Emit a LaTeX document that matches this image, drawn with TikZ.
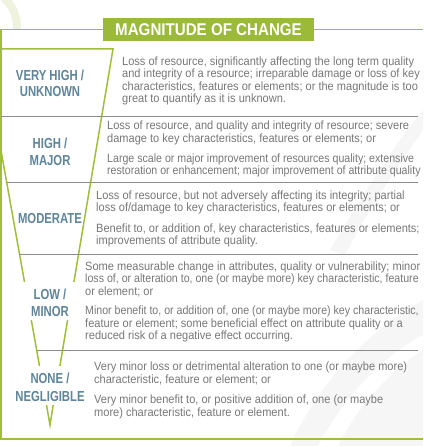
\documentclass[tikz,border=0pt]{standalone}
\usepackage{fontspec}
\setmainfont{Liberation Sans}
\newfontfamily\bodyfont[FakeStretch=0.92]{Liberation Sans}
\newfontfamily\bodyfonttight[FakeStretch=0.885]{Liberation Sans}
\newfontfamily\labfont[FakeStretch=0.78]{Liberation Sans}
\newfontfamily\titfont[FakeStretch=0.89]{Liberation Sans}
\definecolor{lgreen}{RGB}{160,190,60}
\definecolor{tgreen}{RGB}{155,186,58}
\definecolor{labblue}{RGB}{94,133,153}
\definecolor{txtgray}{RGB}{120,120,120}
\definecolor{sepgray}{RGB}{140,140,140}
\definecolor{palegreen}{RGB}{238,242,222}
\definecolor{wmgray}{RGB}{246,246,246}
\begin{document}
\begin{tikzpicture}[x=1pt,y=-1pt,
  body/.style={anchor=base west, inner sep=0pt, text=txtgray, font=\bodyfont\fontsize{12}{13}\selectfont},
  bodytight/.style={body, font=\bodyfonttight\fontsize{12}{13}\selectfont},
  lab/.style={anchor=base, inner sep=0pt, text=labblue, font=\labfont\bfseries\fontsize{14.5}{16}\selectfont},
  frameline/.style={draw=lgreen, line width=1.4pt},
  funnel/.style={draw=lgreen, line width=1.5pt},
  sepline/.style={draw=sepgray, line width=0.9pt}]
\useasboundingbox (0,0) rectangle (423,446);
\clip (0,0) rectangle (423,446);
\fill[white] (0,0) rectangle (423,446);
% faint watermark
\draw[palegreen, line width=8pt] (4,-2) .. controls (13,6) and (17,16) .. (17,29);
\fill[wmgray] (290,446) .. controls (320,380) and (370,330) .. (423,300) -- (423,446) -- cycle;
\fill[white] (318,446) .. controls (345,395) and (385,355) .. (423,335) -- (423,350) .. controls (390,370) and (355,410) .. (338,446) -- cycle;
\fill[wmgray] (330,250) .. controls (360,200) and (390,150) .. (423,110) -- (423,130) .. controls (395,170) and (365,215) .. (345,255) -- cycle;

% title
\node[fill=tgreen, minimum width=211pt, minimum height=23pt, inner sep=0pt, text=white,
      font=\titfont\bfseries\fontsize{17}{19}\selectfont] (title) at (208.5,29.5) {MAGNITUDE OF CHANGE};

% frame
\coordinate (FTL) at (1,29.5);
\coordinate (FBL) at (1,439);
\coordinate (FBR) at (423,439);
\coordinate (FTR) at (423,29.5);
\draw[frameline] (title.west) -- (FTL) -- (FBL) -- (FBR);
\draw[frameline] (title.east) -- (FTR);

% funnel
\coordinate (IL) at (1,49);
\coordinate (RT) at (113,49);
\coordinate (R1) at (73.9,282);
\coordinate (R2) at (67.6,320);
\coordinate (R3) at (59.9,366);
\coordinate (R4) at (53.2,405);
\coordinate (LT) at (1,150.5);
\coordinate (L1) at (24.5,282);
\coordinate (L2) at (31.3,320);
\coordinate (L3) at (39.5,366);
\coordinate (L4) at (46.5,405);
\coordinate (BOT) at (50,425);
\draw[funnel, line join=miter] (IL) -- (RT) -- (R1);
\draw[funnel] (R2) -- (R3);
\draw[funnel] (LT) -- (L1);
\draw[funnel] (L2) -- (L3);
\draw[funnel, line join=miter] (L4) -- (BOT) -- (R4);

% separators
\coordinate (S1a) at (1,116.5);    \coordinate (S1b) at (418,116.5);
\coordinate (S2a) at (6.6,182.5);\coordinate (S2b) at (418,182.5);
\coordinate (S3a) at (19.4,254.5); \coordinate (S3b) at (418,254.5);
\coordinate (S4a) at (36.6,350); \coordinate (S4b) at (418,350);
\draw[sepline] (S1a) -- (S1b);
\draw[sepline] (S2a) -- (S2b);
\draw[sepline] (S3a) -- (S3b);
\draw[sepline] (S4a) -- (S4b);

% labels
\node[lab] (l1a) at (50,80.5) {VERY HIGH /};
\node[lab] (l1b) at (50,96.5) {UNKNOWN};
\node[lab] (l2a) at (50,148.5) {HIGH /};
\node[lab] (l2b) at (50,165.5) {MAJOR};
\node[lab] (l3a) at (50,223.5) {MODERATE};
\node[lab] (l4a) at (50,299.5) {LOW /};
\node[lab] (l4b) at (50,316.5) {MINOR};
\node[lab] (l5a) at (50,383.5) {NONE /};
\node[lab] (l5b) at (50,401.5) {NEGLIGIBLE};

% row 1
\node[body] (t11) at (122,65.5) {Loss of resource, significantly affecting the long term quality};
\node[body] (t12) at (122,77.9) {and integrity of a resource; irreparable damage or loss of key};
\node[body] (t13) at (122,90.3) {characteristics, features or elements; or the magnitude is too};
\node[body] (t14) at (122,102.7) {great to quantify as it is unknown.};
% row 2
\node[body] (t21) at (107,130) {Loss of resource, and quality and integrity of resource; severe};
\node[body] (t22) at (107,142.3) {damage to key characteristics, features or elements; or};
\node[bodytight] (t23) at (107,162.5) {Large scale or major improvement of resources quality; extensive};
\node[bodytight] (t24) at (107,174.8) {restoration or enhancement; major improvement of attribute quality};
% row 3
\node[body] (t31) at (96,199) {Loss of resource, but not adversely affecting its integrity; partial};
\node[body] (t32) at (96,211.3) {loss of/damage to key characteristics, features or elements; or};
\node[body] (t33) at (96,232) {Benefit to, or addition of, key characteristics, features or elements;};
\node[body] (t34) at (96,244.3) {improvements of attribute quality.};
% row 4
\node[body] (t41) at (85,270) {Some measurable change in attributes, quality or vulnerability; minor};
\node[bodytight] (t42) at (85,282.5) {loss of, or alteration to, one (or maybe more) key characteristic, feature};
\node[body] (t43) at (85,295) {or element; or};
\node[bodytight] (t44) at (85,314.5) {Minor benefit to, or addition of, one (or maybe more) key characteristic,};
\node[body] (t45) at (85,327) {feature or element; some beneficial effect on attribute quality or a};
\node[body] (t46) at (85,339.5) {reduced risk of a negative effect occurring.};
% row 5
\node[body] (t51) at (94,370.5) {Very minor loss or detrimental alteration to one (or maybe more)};
\node[body] (t52) at (94,383) {characteristic, feature or element; or};
\node[body] (t53) at (94,403.5) {Very minor benefit to, or positive addition of, one (or maybe};
\node[body] (t54) at (94,416) {more) characteristic, feature or element.};
\end{tikzpicture}
\end{document}
